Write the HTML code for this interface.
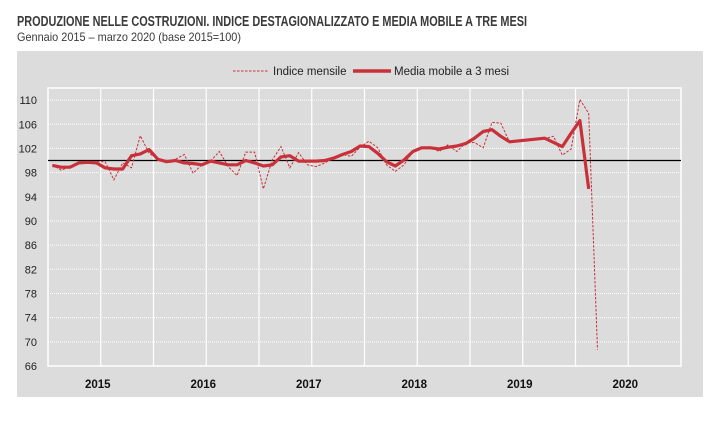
<!DOCTYPE html>
<html><head><meta charset="utf-8"><style>
html,body{margin:0;padding:0;background:#fff;}
svg{display:block;font-family:"Liberation Sans Narrow","Liberation Sans",sans-serif;}
</style></head><body>
<svg width="720" height="427" viewBox="0 0 720 427">
<text x="17" y="26" font-size="14.5" font-weight="bold" fill="#3a3a3a" textLength="510" lengthAdjust="spacingAndGlyphs">PRODUZIONE NELLE COSTRUZIONI. INDICE DESTAGIONALIZZATO E MEDIA MOBILE A TRE MESI</text>
<text x="17" y="41" font-size="12" fill="#3a3a3a" textLength="224" lengthAdjust="spacingAndGlyphs">Gennaio 2015 – marzo 2020 (base 2015=100)</text>
<rect x="17" y="51" width="686" height="346" fill="#dcdcdc"/>
<g id="grid"></g>
<g id="axes"></g>
<g id="series"></g>
<g>
<g>
<line x1="233" y1="71" x2="269" y2="71" stroke="#c8303a" stroke-width="1" stroke-dasharray="2.5,1.5"/>
<text x="273" y="75" font-size="11.5" fill="#222">Indice mensile</text></g>
<g>
<line x1="353" y1="71" x2="391" y2="71" stroke="#c8303a" stroke-width="3.5"/>
<text x="394" y="75" font-size="11.5" fill="#222">Media mobile a 3 mesi</text></g>
</g>
</svg>
<script>
const yTicks=[66,70,74,78,82,86,90,94,98,102,106,110];
const years=["2015","2016","2017","2018","2019","2020"];
const monthly=[99.3,98.4,99.0,99.8,99.8,99.8,99.8,96.8,99.6,98.8,104.1,101.2,
100.2,99.7,100.2,101.0,97.9,99.3,99.9,101.5,99.0,97.5,101.4,101.4,
95.3,100.1,102.3,98.8,101.3,99.3,99.0,99.6,100.4,101.0,100.7,102.2,
103.2,102.1,99.3,98.2,99.3,101.5,102.2,102.2,101.5,102.6,101.5,102.9,
103.0,102.1,106.3,106.2,103.0,null,null,null,103.6,104.0,100.9,101.9,
110.1,107.8,68.7];
const movingAvg=[99.2,98.9,98.9,99.6,99.7,99.6,98.8,98.6,98.6,100.8,101.1,101.8,
100.2,99.8,100.0,99.6,99.5,99.3,99.9,99.6,99.3,99.3,100.0,99.6,
99.1,99.3,100.6,100.8,99.9,99.9,99.9,100.0,100.4,101.0,101.5,102.4,
102.3,101.2,99.8,99.1,100.1,101.5,102.1,102.1,101.9,102.2,102.4,102.8,
103.7,104.8,105.1,104.0,103.1,null,null,null,103.7,103.0,102.3,104.5,
106.6,95.3,null];
const NS="http://www.w3.org/2000/svg";
const L=48,R=681,T=88,B=366,yMin=66,yMax=112,nMonths=72;
const xScale=i=>L+(i+0.5)*(R-L)/nMonths;
const xEdge=m=>L+m*(R-L)/nMonths;
const yScale=v=>B-(v-yMin)*(B-T)/(yMax-yMin);
function mk(tag,attrs,parent){const e=document.createElementNS(NS,tag);for(const k in attrs)e.setAttribute(k,attrs[k]);parent.appendChild(e);return e;}
const grid=document.getElementById('grid'),axes=document.getElementById('axes'),series=document.getElementById('series');
yTicks.forEach(t=>{
 const y=yScale(t);
 const g=mk('line',{x1:L,x2:R,y1:y,y2:y,stroke:'#fff','stroke-width':1,'stroke-dasharray':'1,1'},grid);
 
 
 const tx=mk('text',{x:37,y:y+4,'text-anchor':'end','font-size':11,fill:'#222'},axes);
 tx.textContent=t;
 
 
});
for(let m=6;m<nMonths;m+=6){
 const x=xEdge(m);
 const g=mk('line',{x1:x,x2:x,y1:T,y2:B,stroke:'#fff','stroke-width':1.2},grid);
 
 
}
const border=mk('rect',{x:L,y:T,width:R-L,height:B-T,fill:'none',stroke:'#fff','stroke-width':1.5},grid);


years.forEach((yr,k)=>{
 const tx=mk('text',{x:(xEdge(k*12)+xEdge(k*12+12))/2-3,y:388,'text-anchor':'middle','font-size':11.5,'font-weight':'bold',fill:'#111'},axes);
 tx.textContent=yr;
 
 
});
const ref=mk('line',{x1:L,x2:R,y1:yScale(100),y2:yScale(100),stroke:'#000','stroke-width':1.2},series);


function pathFor(arr){let d='';arr.forEach((v,i)=>{if(v===null)return;d+=(d?'L':'M')+xScale(i).toFixed(1)+','+yScale(v).toFixed(1);});return d;}
const p1=mk('path',{d:pathFor(monthly),fill:'none',stroke:'#c8303a','stroke-width':1,'stroke-dasharray':'2.5,1.5'},series);


const p2=mk('path',{d:pathFor(movingAvg),fill:'none',stroke:'#c8303a','stroke-width':3.2,'stroke-linejoin':'round'},series);


</script>
</body></html>
